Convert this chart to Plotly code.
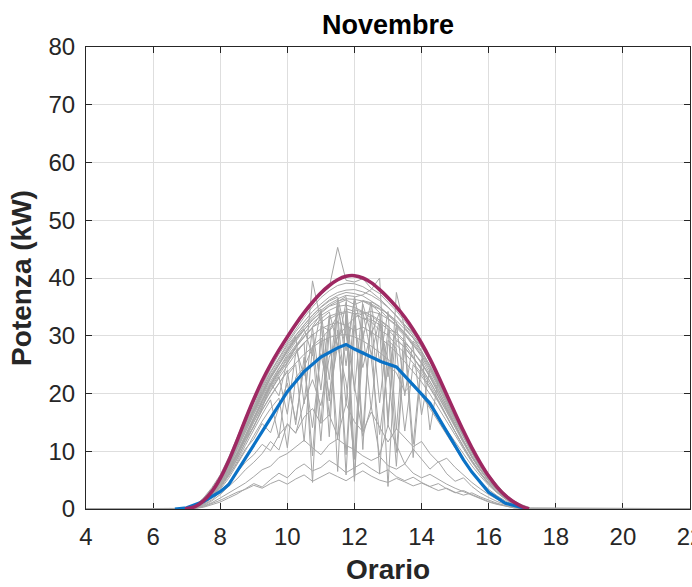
import plotly.graph_objects as go

# ---------------- data ----------------
# time grid of the daily gray curves (hours)
T = [6.75, 7.0, 7.25, 7.5, 7.75, 8.0, 8.25, 8.5, 8.75, 9.0,
     9.25, 9.5, 9.75, 10.0, 10.25, 10.5, 10.75, 11.0, 11.25, 11.5,
     11.75, 12.0, 12.25, 12.5, 12.75, 13.0, 13.25, 13.5, 13.75, 14.0,
     14.25, 14.5, 14.75, 15.0, 15.25, 15.5, 15.75, 16.0, 16.25, 16.5,
     16.75, 17.0, 17.25]
NIGHT_START = 0.0
NIGHT_END = 24.0

# clear days
C1 = [0,0,0.6,1.8,3.5,5.6,8.4,11.6,15.0,18.4, 21.5,24.3,26.8,29.0,31.2,33.2,35.0,36.6,37.8,38.7,
      39.1,39.0,38.5,37.6,36.4,35.0,33.4,31.6,29.6,27.4, 24.8,21.8,18.7,15.6,12.6,9.8,7.4,5.3,3.6,2.2, 1.1,0.4,0]
C2 = [0,0,0.5,1.6,3.2,5.3,8.0,11.2,14.6,17.9, 20.8,23.6,26.0,28.3,30.1,31.9,33.6,35.0,36.2,37.0,
      37.5,37.3,36.9,36.0,35.1,33.6,32.2,30.4,28.5,26.4, 23.9,21.2,18.2,15.3,12.4,9.7,7.3,5.2,3.5,2.1, 1.0,0.3,0]
C3 = [0,0,0.3,1.2,2.7,4.6,7.2,10.3,13.6,16.8, 19.8,22.7,25.1,27.4,29.5,31.0,32.8,33.9,35.1,35.6,
      36.2,35.4,36.0,35.2,34.6,33.0,31.9,30.6,28.8,26.9, 24.6,22.0,19.3,16.4,13.5,10.7,8.2,6.0,4.2,2.6, 1.4,0.5,0]
C4 = [0,0,0.4,1.4,2.9,4.9,7.5,10.5,13.8,16.9, 19.6,22.1,24.4,26.3,28.4,29.9,31.5,32.3,33.4,33.9,
      34.2,33.8,33.0,32.4,31.0,30.1,28.4,27.0,25.2,23.5, 21.1,18.7,16.0,13.3,10.7,8.3,6.2,4.4,2.9,1.8, 0.9,0.3,0]
C5 = [0,0,0.3,1.1,2.5,4.3,6.7,9.5,12.6,15.6, 18.3,20.9,23.2,25.4,27.3,28.8,30.1,31.2,31.9,32.3,
      31.8,30.9,31.5,30.6,29.7,28.5,27.1,25.5,23.8,22.0, 19.9,17.6,15.2,12.8,10.4,8.1,6.1,4.3,2.9,1.7, 0.8,0.3,0]
C6 = [0,0,0.5,1.7,3.4,5.5,8.3,11.5,14.9,18.2, 21.1,23.8,26.3,28.6,30.7,32.5,34.2,35.5,36.7,37.5,
      37.9,38.0,37.6,37.0,36.1,34.9,33.5,31.9,30.1,28.2, 25.6,22.6,19.3,16.1,13.0,10.2,7.8,5.7,3.9,2.5, 1.4,0.6,0.1]
C7 = [0,0,0.4,1.3,2.8,4.7,7.1,9.6,12.1,14.2, 17.5,21.6,23.9,25.2,28.1,30.4,32.2,33.5,34.4,35.1,
      35.3,34.9,34.2,33.5,32.3,31.1,29.5,27.9,26.1,24.3, 22.1,19.6,17.0,14.3,11.6,9.0,6.8,4.9,3.3,2.0, 1.0,0.3,0]
C8 = [0,0,0.6,1.9,3.7,5.9,8.9,12.3,15.9,19.3, 22.3,25.0,27.4,29.6,31.7,33.7,35.6,37.2,38.4,45.3,
      39.6,39.3,39.9,38.2,37.3,35.8,34.3,32.5,30.6,28.6, 25.8,22.6,19.2,16.0,12.8,10.0,7.6,5.5,3.7,2.3, 1.2,0.4,0]
C9 = [0,0,0.3,1.0,2.2,3.9,6.1,8.7,11.6,14.5, 17.2,19.6,21.8,23.7,25.3,26.8,28.0,29.0,29.7,30.1,
      30.2,29.8,29.1,28.2,27.1,25.9,24.5,23.0,21.4,19.7, 17.8,15.8,13.7,11.6,9.5,7.5,5.7,4.1,2.8,1.7, 0.8,0.3,0]
C10 = [0,0,0.2,0.9,2.1,3.8,6.2,9.0,12.3,15.6, 18.7,21.7,24.3,26.8,29.0,31.0,32.7,34.1,35.2,36.0,
       36.4,36.3,36.0,35.5,34.7,33.8,32.6,31.2,29.7,28.0, 25.5,22.4,19.0,15.8,12.7,9.9,7.5,5.5,3.8,2.4, 1.4,0.7,0.2]

# partly cloudy days
J1 = [0,0,0.4,1.5,3.1,5.1,7.8,10.9,14.2,17.4, 20.3,23.0,25.1,27.6,29.8,18.2,31.6,33.8,12.5,35.9,
      36.8,8.6,35.5,30.2,34.1,15.8,31.4,29.9,11.2,26.0, 23.5,20.8,17.6,14.7,11.9,9.3,7.0,5.0,3.4,2.1, 1.1,0.4,0]
J2 = [0,0,0.3,1.2,2.6,4.5,6.9,9.8,12.8,15.9, 18.8,21.4,23.9,26.2,28.1,29.7,31.4,20.6,33.5,6.5,
      34.7,34.2,13.4,33.6,32.7,31.5,9.8,28.8,27.3,25.4, 22.9,20.1,17.3,14.5,11.6,9.0,6.8,4.9,3.3,2.0, 1.0,0.3,0]
J3 = [0,0,0.3,1.0,2.2,3.8,6.0,8.6,11.5,14.4, 17.1,19.5,21.8,24.0,14.6,26.3,9.2,29.4,31.1,12.0,
      33.6,4.8,30.9,17.3,32.1,25.8,7.4,28.6,26.4,24.1, 21.6,18.9,16.1,13.4,10.8,8.4,6.3,4.5,3.0,1.8, 0.9,0.3,0]
J4 = [0,0,0.4,1.3,2.8,4.8,7.3,10.2,13.3,16.4, 19.2,21.8,19.6,25.7,27.8,23.1,39.5,32.5,18.7,35.0,
      27.4,36.1,10.3,35.4,34.0,22.9,31.8,30.2,28.2,16.3, 24.3,21.4,18.4,15.4,12.5,9.8,7.4,5.3,3.6,2.2, 1.1,0.4,0]
J5 = [0,0,0.3,1.0,2.3,3.9,5.8,7.9,10.4,12.1, 14.8,13.2,17.6,21.8,15.4,24.6,27.9,11.8,30.8,32.6,
      5.9,33.8,34.0,33.1,18.4,31.0,30.6,29.1,27.2,25.2, 22.8,20.1,17.3,14.5,11.7,9.1,6.9,4.9,3.3,2.0, 1.0,0.3,0]
J6 = [0,0,0.4,1.4,3.0,5.0,7.6,10.6,13.9,17.0, 19.9,22.6,25.0,27.2,29.3,31.2,26.5,34.4,35.5,36.3,
      24.8,36.7,37.1,38.0,40.0,14.2,37.5,31.2,29.6,27.4, 13.7,22.5,19.5,16.4,13.4,10.5,8.0,5.8,3.9,2.4, 1.3,0.5,0]
J7 = [0,0,0.2,0.8,1.9,3.4,5.3,7.6,10.1,12.7, 15.2,17.4,19.2,10.6,22.8,24.5,14.1,26.9,19.6,28.3,
      22.0,8.7,27.4,26.1,12.9,24.8,23.6,20.3,21.8,19.7, 17.4,15.0,12.7,10.4,8.3,6.4,4.8,3.4,2.3,1.4, 0.7,0.2,0]
J8 = [0,0,0.3,1.1,2.4,4.1,6.4,9.1,12.0,15.0, 17.8,20.4,22.7,24.9,26.9,28.8,4.6,31.7,30.9,33.6,
      34.0,5.3,33.1,32.8,31.9,3.9,29.2,28.0,26.3,24.4, 22.1,19.5,16.8,14.1,11.4,8.9,6.7,4.8,3.2,1.9, 1.0,0.3,0]
J9 = [0,0,0.4,1.4,3.0,5.0,7.7,10.8,14.1,17.3, 20.1,22.8,25.2,27.5,29.6,31.5,33.1,34.6,22.4,36.4,
      37.0,36.8,29.5,35.9,35.0,33.8,32.4,19.6,29.1,27.2, 24.9,22.2,19.1,16.0,13.0,10.2,7.7,5.6,3.8,2.4, 1.2,0.4,0]
J10 = [0,0,0.3,1.1,2.5,4.3,6.6,9.3,12.3,15.2, 18.0,20.5,22.9,16.4,27.0,28.7,30.3,14.9,32.9,33.7,
       18.1,34.5,34.1,26.7,32.8,31.7,30.3,28.8,8.9,25.3, 23.1,20.6,17.9,15.1,12.3,9.7,7.3,5.3,3.6,2.2, 1.1,0.4,0]
J11 = [0,0,0.2,0.9,2.0,3.6,5.7,8.2,11.0,13.8, 16.4,18.9,12.3,23.2,25.0,11.7,28.3,29.5,16.2,31.0,
       9.4,31.8,24.5,30.9,6.1,29.2,27.8,13.5,25.0,23.0, 20.9,18.5,15.9,13.3,10.8,8.4,6.3,4.5,3.0,1.8, 0.9,0.3,0]
J12 = [0,0,0.4,1.5,3.2,5.3,8.0,11.1,14.4,17.6, 20.5,23.2,25.6,27.9,30.0,31.9,33.5,34.9,36.0,36.7,
       30.2,21.4,12.6,17.8,9.3,14.5,11.2,7.8,10.4,8.6, 6.9,8.2,6.1,4.8,5.4,3.9,2.8,2.0,1.3,0.8, 0.4,0.1,0]
J13 = [0,0,0.2,0.6,1.4,2.5,3.9,5.2,6.8,8.1, 9.6,11.7,10.2,14.8,13.1,18.6,22.4,17.9,26.3,29.8,
       31.6,33.1,33.9,34.2,33.8,32.9,31.7,30.2,28.5,26.6, 24.3,21.7,18.8,15.9,13.0,10.2,7.7,5.6,3.8,2.4, 1.2,0.4,0]
J14 = [0,0,0.3,1.2,2.6,4.4,6.8,9.6,12.7,15.7, 18.6,21.2,23.6,25.9,27.9,29.8,31.4,32.9,34.1,28.3,
       35.8,20.4,36.1,35.7,25.4,34.2,13.8,31.9,30.4,28.6, 26.0,23.0,19.8,16.5,13.4,10.5,8.0,5.7,3.8,2.3, 1.2,0.4,0]

# overcast days
L1 = [0,0,0.1,0.5,1.1,1.9,2.8,3.6,4.5,5.6, 6.8,7.4,8.9,9.6,10.8,11.9,10.6,9.4,11.2,12.1,
      11.0,10.3,9.2,8.4,9.1,7.5,6.9,7.8,6.2,5.4, 6.0,5.1,4.3,3.6,3.0,2.3,1.7,1.2,0.8,0.5, 0.2,0.1,0]
L2 = [0,0,0.1,0.4,0.9,1.5,2.2,2.9,3.4,4.1, 3.6,4.4,5.0,4.3,5.2,5.9,4.8,5.5,6.3,5.6,
      4.9,5.8,6.6,5.7,5.0,4.6,5.3,4.7,4.0,4.5, 3.8,3.2,3.6,2.9,2.4,2.8,2.1,1.5,1.0,0.6, 0.3,0.1,0]
L3 = [0,0,0.1,0.3,0.7,1.2,1.9,2.6,3.5,4.4, 3.8,5.1,6.2,5.4,6.9,7.8,6.6,7.2,8.4,7.5,
      6.3,7.1,8.0,7.0,6.1,6.8,5.6,4.9,5.5,4.6, 3.9,4.4,3.5,2.8,3.2,2.5,1.9,1.3,0.9,0.5, 0.2,0.1,0]
L4 = [0,0,0.2,0.7,1.6,2.9,4.6,6.3,8.1,9.4, 11.2,10.1,12.8,14.6,13.2,15.9,17.4,14.8,16.3,12.6,
      18.2,15.1,13.4,16.8,14.2,11.6,13.9,12.4,10.8,11.7, 9.6,8.1,8.8,7.2,5.9,4.6,3.5,2.5,1.7,1.0, 0.5,0.2,0]

DAYS = [C1, C2, C3, C4, C5, C6, C7, C8, C9, C10,
        J1, J2, J3, J4, J5, J6, J7, J8, J9, J10, J11, J12, J13, J14,
        L1, L2, L3, L4]

# mean profile (blue)
MEAN_T = [6.65, 7.0, 7.5, 8.0, 8.25, 8.5, 9.0, 9.5, 10.0, 10.5, 11.0, 11.5, 11.75,
          12.0, 12.5, 12.8, 13.25, 13.5, 14.0, 14.25, 14.5, 15.0, 15.25, 15.5, 16.0, 16.5, 17.15]
MEAN_P = [0.0, 0.2, 1.3, 3.0, 4.2, 6.5, 11.1, 15.8, 20.3, 23.8, 26.3, 27.9, 28.5,
          27.7, 26.4, 25.5, 24.6, 23.1, 19.9, 18.3, 15.8, 10.9, 8.5, 6.4, 2.9, 1.0, 0.0]

# envelope (purple)
ENV_T = [6.95, 7.25, 7.5, 7.75, 8.0, 8.25, 8.5, 8.75, 9.0, 9.25, 9.5, 9.75, 10.0, 10.25, 10.5,
         10.75, 11.0, 11.25, 11.5, 11.75, 12.0, 12.25, 12.5, 12.75, 13.0, 13.25, 13.5, 13.75,
         14.0, 14.25, 14.5, 14.75, 15.0, 15.25, 15.5, 15.75, 16.0, 16.25, 16.5, 16.75, 17.0, 17.2]
ENV_P = [0.0, 0.4, 1.4, 3.0, 5.3, 8.3, 11.8, 15.5, 19.0, 22.2, 25.0, 27.5, 29.8, 32.0, 34.0,
         35.8, 37.4, 38.7, 39.7, 40.3, 40.4, 40.0, 39.2, 38.0, 36.6, 35.0, 33.2, 31.1,
         28.7, 26.0, 23.0, 19.8, 16.6, 13.5, 10.6, 8.0, 5.7, 3.8, 2.3, 1.2, 0.4, 0.0]

X_TICKS = [4, 6, 8, 10, 12, 14, 16, 18, 20, 22]
Y_TICKS = [0, 10, 20, 30, 40, 50, 60, 70, 80]

# ---------------- figure ----------------
FONT = "Liberation Sans, Arial, sans-serif"
AX = "#262626"
GRID = "#DEDEDE"

fig = go.Figure()
for day in DAYS:
    fig.add_trace(go.Scatter(
        x=[NIGHT_START] + T + [NIGHT_END], y=[0] + day + [0],
        mode="lines", line=dict(color="#A6A6A6", width=1),
        showlegend=False, hoverinfo="skip"))

fig.add_trace(go.Scatter(x=MEAN_T, y=MEAN_P, mode="lines",
                         line=dict(color="#0B72C6", width=3.2), showlegend=False))
fig.add_trace(go.Scatter(x=ENV_T, y=ENV_P, mode="lines",
                         line=dict(color="#9E2862", width=3.6, shape="spline", smoothing=0.8),
                         showlegend=False))

axis_common = dict(
    showgrid=True, gridcolor=GRID, gridwidth=1,
    showline=True, linecolor=AX, linewidth=1, mirror="ticks",
    ticks="inside", ticklen=6, tickcolor=AX, tickwidth=1,
    zeroline=False, automargin=False, ticklabeloverflow="allow",
    tickfont=dict(family=FONT, size=24, color=AX),
)

fig.update_layout(
    width=692, height=587,
    margin=dict(l=86, r=1.5, t=47, b=78),
    paper_bgcolor="white", plot_bgcolor="white",
    title=dict(text="Novembre", x=0.5, xref="paper", xanchor="center",
               y=1 - 25 / 587, yref="container", yanchor="middle",
               font=dict(family=FONT, size=27, color="black", weight="bold")),
    xaxis=dict(range=[4, 22], tickvals=X_TICKS, ticktext=[str(v) for v in X_TICKS],
               layer="below traces", ticklabelstandoff=6,
               title=dict(text="Orario", standoff=10,
                          font=dict(family=FONT, size=28, color=AX, weight="bold")),
               **axis_common),
    yaxis=dict(range=[0, 80], tickvals=Y_TICKS, ticktext=[str(v) for v in Y_TICKS],
               ticklabelstandoff=5,
               title=dict(text="Potenza (kW)", standoff=8,
                          font=dict(family=FONT, size=28, color=AX, weight="bold")),
               **axis_common),
)

fig.write_html("out.html", config={"displayModeBar": False},
               post_script="document.body.style.margin='0';")
